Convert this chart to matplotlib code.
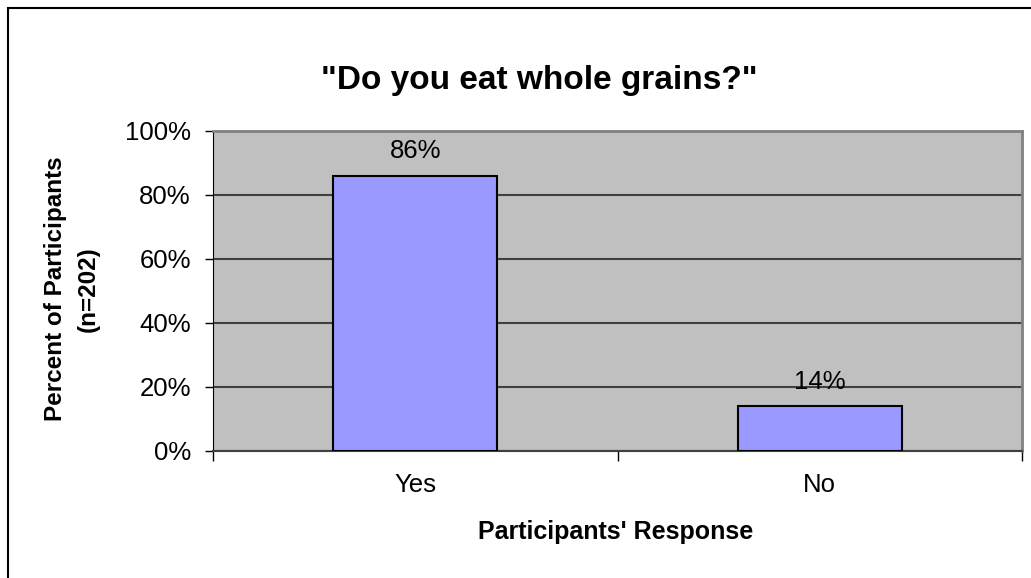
import matplotlib
matplotlib.use("Agg")
import matplotlib.pyplot as plt
import matplotlib.ticker as mticker
from matplotlib.patches import Rectangle

plt.rcParams["font.family"] = ["Liberation Sans", "DejaVu Sans"]

# survey results
responses = ["Yes", "No"]
percents = [86, 14]
y_ticks = [0, 20, 40, 60, 80, 100]

W, H = 1031, 578
fig = plt.figure(figsize=(W / 100, H / 100), dpi=100)
fig.patch.set_facecolor("white")

# outer chart frame (runs past the right and bottom edges)
fig.patches.append(Rectangle((7.5 / W, -0.1), 1.2, 1.1 - 8 / H, transform=fig.transFigure,
                             fill=False, edgecolor="black", linewidth=1.5))

ax = fig.add_axes([213 / W, 1 - 451 / H, (1022 - 213) / W, (451 - 131) / H])
ax.set_facecolor("#C0C0C0")

x = list(range(len(responses)))
ax.bar(x, percents, width=0.405, color="#9999FF", edgecolor="black", linewidth=1.5, zorder=3)

for xi, p in zip(x, percents):
    ax.annotate(f"{p}%", xy=(xi, p), xytext=(0, 9), textcoords="offset points",
                ha="center", va="bottom", fontsize=18.5)

ax.set_xlim(-0.5, len(responses) - 0.5)
ax.set_ylim(0, 100)
ax.set_yticks(y_ticks)
ax.yaxis.set_major_formatter(mticker.FuncFormatter(lambda v, _: f"{v:.0f}%"))
ax.yaxis.grid(True, color="#404040", linewidth=1.5, zorder=1)
ax.set_axisbelow(True)

# category labels centred, tick marks at the category boundaries
ax.set_xticks([i - 0.5 for i in range(len(responses) + 1)])
ax.set_xticklabels([])
ax.set_xticks(x, minor=True)
ax.set_xticklabels(responses, minor=True, fontsize=18.5)
ax.tick_params(axis="x", which="minor", length=0, pad=16)
ax.tick_params(axis="x", which="major", length=7, width=1, direction="out")
ax.tick_params(axis="y", length=6, width=1, labelsize=18.5, pad=10)

for side in ["top", "right"]:
    ax.spines[side].set_color("#808080")
    ax.spines[side].set_linewidth(2)
ax.spines["left"].set_color("black")
ax.spines["bottom"].set_color("#404040")
ax.spines["bottom"].set_linewidth(1.5)

fig.text(539 / W, 1 - 80 / H, '"Do you eat whole grains?"', ha="center", va="center",
         fontsize=24, fontweight="bold")
fig.text(616 / W, 1 - 532 / H, "Participants' Response", ha="center", va="center",
         fontsize=18, fontweight="bold")
fig.text(72 / W, 1 - 289 / H, "Percent of Participants\n(n=202)", ha="center", va="center",
         rotation=90, fontsize=17.5, fontweight="bold", linespacing=1.55)

fig.savefig("out.png", dpi=100)
